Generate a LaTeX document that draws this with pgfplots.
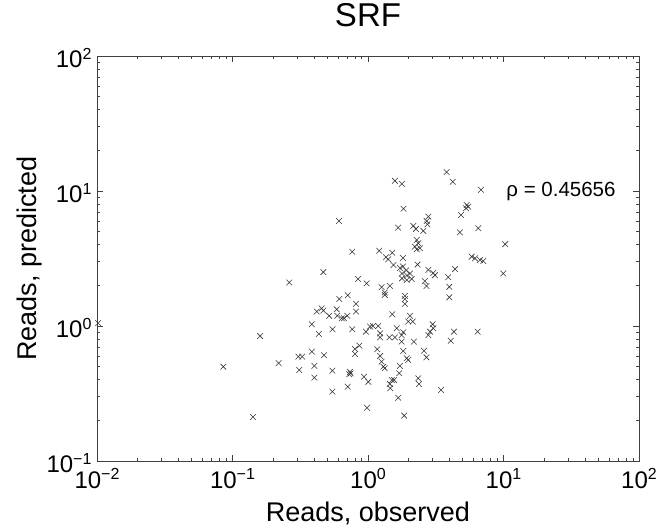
\documentclass[border=0pt]{standalone}
\usepackage{pgfplots}
\pgfplotsset{compat=1.18}
\usepackage{fontspec}
\setmainfont{Liberation Sans}
\newcommand\tl[1]{10\raisebox{8.5pt}{\fontsize{16}{16}\selectfont #1}}
\begin{document}
\begin{tikzpicture}
\useasboundingbox (-97pt,-66pt) rectangle (561pt,461pt);
\begin{axis}[
  at={(0pt,0pt)}, anchor=south west,
  scale only axis, width=542pt, height=405pt,
  xmode=log, ymode=log,
  xmin=0.01, xmax=100, ymin=0.1, ymax=100,
  axis line style={black!75, line width=0.6pt},
  tick style={black!75, line width=0.6pt},
  tick align=inside,
  major tick length=6pt, minor tick length=3.5pt,
  xtick={0.01,0.1,1,10,100},
  xticklabels={\tl{−2},\tl{−1},\tl{0},\tl{1},\tl{2}},
  ytick={0.1,1,10,100},
  yticklabels={\tl{−1},\tl{0},\tl{1},\tl{2}},
  ticklabel style={font=\fontsize{24}{26}\selectfont},
  xticklabel style={anchor=base, yshift=-27pt},
  yticklabel style={xshift=-2pt, yshift=-2pt},
  title={SRF},
  title style={font=\fontsize{33}{36}\selectfont, at={(axis description cs:0.5,1)}, anchor=base, yshift=23pt},
  xlabel={Reads, observed},
  ylabel={Reads, predicted},
  label style={font=\fontsize{27}{29}\selectfont},
  xlabel style={at={(axis description cs:0.5,0)}, anchor=base, yshift=-60pt},
  ylabel style={at={(axis description cs:-0.112,0.5)}, anchor=base},
  clip=false,
]
\addplot[only marks, mark=x, mark size=4pt, mark options={black!80, line width=0.55pt}] coordinates {
(0.0102,1.05) (0.160,0.843) (0.0855,0.50) (0.219,0.530) (0.1416,0.212)
(1.58,11.9) (1.78,11.3) (1.83,7.39) (0.611,6.0) (1.67,5.35) (2.16,5.51) (2.26,5.24)
(2.29,4.34) (2.35,4.10) (2.22,3.87) (2.42,3.77) (2.29,3.70)
(0.766,3.55) (1.21,3.61) (1.36,3.23) (1.51,3.49) (1.41,3.12) (1.81,3.19)
(0.468,2.51) (1.54,2.83) (2.32,2.85)
(1.72,2.69) (1.81,2.76) (1.91,2.58) (1.78,2.45) (1.94,2.37) (2.04,2.45)
(0.262,2.10) (0.843,2.23) (0.977,2.07) (1.26,1.94) (1.45,1.98)
(1.78,2.25) (2.10,2.23) (1.93,2.19)
(1.33,1.77) (1.33,1.70) (1.87,1.67) (1.87,1.58) (1.87,1.46)
(0.614,1.585) (0.708,1.69) (0.815,1.46) (0.815,1.28)
(0.418,1.28) (0.455,1.35) (0.468,1.30) (0.517,1.19) (0.587,1.33) (0.593,1.19)
(0.640,1.14) (0.703,1.19) (0.665,1.14) (1.51,1.22)
(2.04,1.19) (1.98,1.08) (2.14,1.08)
(0.385,1.03) (0.434,0.873) (0.548,0.946) (0.766,0.946) (0.966,0.908) (1.035,0.99)
(1.09,1.0) (1.19,1.0) (1.23,0.883) (1.23,0.824) (1.44,0.824) (1.58,0.824)
(1.63,0.962) (1.77,0.857) (1.82,0.898) (1.77,0.766) (2.18,0.766)
(0.863,0.715) (0.802,0.676) (0.802,0.621) (1.17,0.672) (1.23,0.60) (1.26,0.544)
(1.30,0.50) (1.33,0.486) (1.82,0.653) (1.93,0.577) (1.98,0.560) (1.72,0.506) (1.70,0.447)
(0.306,0.593) (0.327,0.593) (0.385,0.646) (0.473,0.607) (0.311,0.472) (0.402,0.506)
(0.402,0.414) (0.546,0.467) (0.736,0.458) (0.745,0.446) (0.727,0.439)
(0.933,0.421) (1.005,0.386) (1.50,0.398) (1.56,0.398) (1.45,0.372) (1.46,0.346)
(2.35,0.410) (2.38,0.372) (0.546,0.326) (0.708,0.355) (1.67,0.294) (0.985,0.248) (1.85,0.217)
(3.81,13.8) (4.22,11.7) (6.82,10.2)
(5.35,7.87) (5.50,7.65) (5.29,7.45) (4.86,6.64)
(2.79,6.46) (2.71,5.99) (2.74,5.66) (2.56,5.06) (4.77,4.94) (6.52,5.30) (10.3,4.04)
(5.82,3.26) (6.16,3.17) (6.71,3.08) (7.10,3.03)
(2.79,2.60) (3.03,2.47) (3.12,2.38) (4.39,2.64) (3.91,2.30) (3.98,1.95)
(2.63,2.15) (2.70,1.98) (9.97,2.45) (3.98,1.63)
(3.0,1.03) (3.03,0.962) (2.87,0.908) (2.79,0.857) (4.31,0.908) (4.08,0.778) (6.45,0.908)
(2.59,0.656) (2.70,0.586) (3.46,0.336)
};
\node[anchor=west, font=\fontsize{20.5}{23}\selectfont] at (axis cs:9.9,9.84) {ρ = 0.45656};
\end{axis}
\end{tikzpicture}
\end{document}
